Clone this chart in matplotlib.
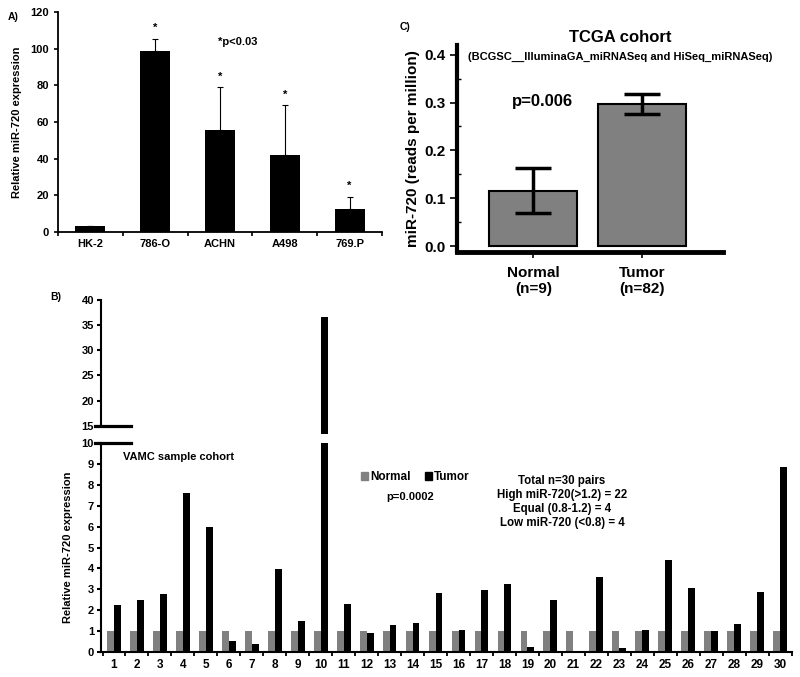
import numpy as np
import matplotlib
matplotlib.use("Agg")
import matplotlib.pyplot as plt
from matplotlib.patches import Patch

plt.rcParams['font.family'] = ['Liberation Sans', 'DejaVu Sans']
plt.rcParams['font.weight'] = 'bold'
plt.rcParams['axes.labelweight'] = 'bold'

# panel A - cell lines
cell_lines = ['HK-2', '786-O', 'ACHN', 'A498', '769.P']
cell_expr = [3.4, 98.5, 55.5, 41.8, 12.4]
cell_err = [0, 7.0, 23.4, 27.5, 6.9]
cell_sig = [False, True, True, True, True]

# panel C - TCGA cohort
tcga_groups = ['Normal\n(n=9)', 'Tumor\n(n=82)']
tcga_vals = [0.116, 0.297]
tcga_err = [0.047, 0.020]

# panel B - VAMC paired samples
pairs = list(range(1, 31))
normal = [1.0] * 30
tumor = [2.24, 2.50, 2.79, 7.63, 6.00, 0.53, 0.37, 3.98, 1.47, 36.56,
         2.31, 0.90, 1.27, 1.37, 2.80, 1.03, 2.95, 3.23, 0.24, 2.47,
         0.0, 3.61, 0.18, 1.05, 4.40, 3.08, 1.00, 1.35, 2.89, 8.85]

W, H = 800, 677
fig = plt.figure(figsize=(W / 100, H / 100), dpi=100)


def px(l, t, r, b):
    return [l / W, 1 - b / H, (r - l) / W, (b - t) / H]


def ftext(x, y, s, **kw):
    fig.text(x / W, 1 - y / H, s, **kw)


# ---------- A ----------
axA = fig.add_axes(px(58, 12, 382, 232))
xa = np.arange(len(cell_lines))
axA.bar(xa, cell_expr, width=0.46, color='black')
axA.errorbar(xa, cell_expr, yerr=[np.zeros(len(cell_err)), cell_err], fmt='none',
             ecolor='black', elinewidth=0.8, capsize=2.5, capthick=0.8)
for x, v, e, s in zip(xa, cell_expr, cell_err, cell_sig):
    if s:
        axA.text(x, v + e + 3, '*', ha='center', va='bottom', fontsize=8)
axA.set_xlim(-0.5, 4.5)
axA.set_ylim(0, 120)
axA.set_yticks(range(0, 121, 20))
axA.set_xticks(np.arange(-0.5, 5, 1))
axA.set_xticklabels([])
axA.set_xticks(xa, minor=True)
axA.set_xticklabels(cell_lines, minor=True)
axA.tick_params(axis='x', which='minor', length=0, labelsize=8, pad=5)
axA.tick_params(axis='x', which='major', length=3, width=1.2)
axA.tick_params(axis='y', labelsize=8, length=3, width=1.2)
for sp in ['top', 'right']:
    axA.spines[sp].set_visible(False)
for sp in ['left', 'bottom']:
    axA.spines[sp].set_linewidth(1.3)
axA.set_ylabel('Relative miR-720 expression', fontsize=8, labelpad=6)
ftext(8, 17, 'A)', fontsize=7.5, va='center')
ftext(238, 42, '*p<0.03', fontsize=8, ha='center', va='center')

# ---------- C ----------
axC = fig.add_axes(px(457, 45, 723, 252))
xc = np.arange(len(tcga_groups))
axC.bar(xc, tcga_vals, width=0.81, color='#808080', edgecolor='black', linewidth=1.5)
axC.errorbar(xc, tcga_vals, yerr=tcga_err, fmt='none', ecolor='black',
             elinewidth=2.5, capsize=13, capthick=2.5)
axC.set_xlim(-0.70, 1.74)
axC.set_ylim(-0.012, 0.42)
axC.set_yticks([0.0, 0.1, 0.2, 0.3, 0.4])
axC.set_yticklabels(['0.0', '0.1', '0.2', '0.3', '0.4'])
axC.set_yticks(np.arange(0.05, 0.41, 0.1), minor=True)
axC.set_xticks(xc)
axC.set_xticklabels(tcga_groups, fontsize=11)
axC.tick_params(axis='y', which='major', labelsize=11, length=5, width=1.2)
axC.tick_params(axis='y', which='minor', direction='in', length=3, width=1)
axC.tick_params(axis='x', length=4, width=1.2, pad=6)
for sp in ['top', 'right']:
    axC.spines[sp].set_visible(False)
axC.spines['left'].set_linewidth(3)
axC.spines['bottom'].set_linewidth(3.5)
axC.set_ylabel('miR-720 (reads per million)', fontsize=11, labelpad=3)
axC.text(0.08, 0.303, 'p=0.006', fontsize=12, ha='center', va='center')
ftext(620, 38, 'TCGA cohort', fontsize=12, ha='center', va='center')
ftext(620, 57, '(BCGSC__IlluminaGA_miRNASeq and HiSeq_miRNASeq)', fontsize=8,
      ha='center', va='center')
ftext(400, 27, 'C)', fontsize=7.5, va='center')

# ---------- B ----------
xb = np.array(pairs)
bw = 0.3
axB = fig.add_axes(px(101, 443, 792, 652))
axU = fig.add_axes(px(101, 300, 792, 434))
for ax in (axB, axU):
    ax.bar(xb - bw / 2, normal, width=bw, color='#808080')
    ax.bar(xb + bw / 2, tumor, width=bw, color='black')
    ax.set_xlim(0.434, 30.52)
    for sp in ['top', 'right']:
        ax.spines[sp].set_visible(False)
    ax.spines['left'].set_linewidth(1.5)
    ax.tick_params(axis='y', labelsize=8, length=3, width=1.5, pad=2)

axB.set_ylim(0, 10)
axB.set_yticks(range(0, 11))
axB.spines['bottom'].set_linewidth(1.5)
axB.set_xticks(np.arange(0.5, 31, 1))
axB.set_xticklabels([])
axB.set_xticks(xb, minor=True)
axB.set_xticklabels([str(p) for p in pairs], minor=True)
axB.tick_params(axis='x', which='minor', length=0, labelsize=8.5, pad=5)
axB.tick_params(axis='x', which='major', length=3, width=1.3)
axB.set_ylabel('Relative miR-720 expression', fontsize=8, labelpad=6)

axU.set_ylim(13.35, 40)
axU.set_yticks(range(15, 41, 5))
axU.spines['left'].set_bounds(15, 40)
axU.spines['bottom'].set_visible(False)
axU.set_xticks([])

# axis break marks
for ax, yv in ((axU, 15), (axB, 10)):
    ax.plot([-0.009, 0.043], [yv, yv], color='black', lw=2.3,
            transform=ax.get_yaxis_transform(), clip_on=False)

ftext(50, 297, 'B)', fontsize=7.5, va='center')
ftext(123, 457, 'VAMC sample cohort', fontsize=8, va='center')
handles = [Patch(color='#808080', label='Normal'), Patch(color='black', label='Tumor')]
fig.legend(handles=handles, ncol=2, frameon=False, fontsize=8.5,
           handlelength=0.6, handleheight=0.6, handletextpad=0.2, columnspacing=1.2,
           loc='center left', bbox_to_anchor=(350 / W, 1 - 477 / H))
ftext(410, 497, 'p=0.0002', fontsize=8, ha='center', va='center')
stats = ['Total n=30 pairs', 'High miR-720(>1.2) = 22',
         'Equal (0.8-1.2) = 4', 'Low miR-720 (<0.8) = 4']
ftext(562, 502, '\n'.join(stats), fontsize=8.3, ha='center', va='center',
      linespacing=1.2)

fig.savefig('out.png', dpi=100)
